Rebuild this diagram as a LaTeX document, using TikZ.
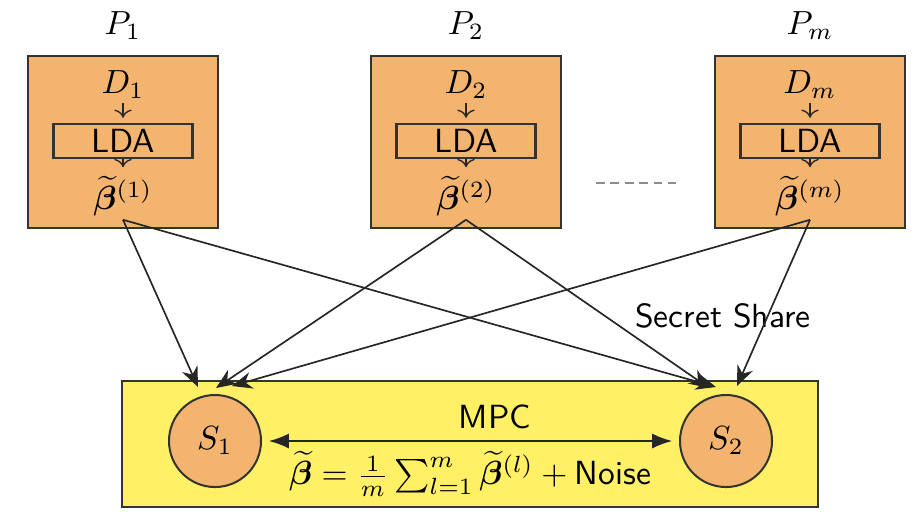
\documentclass[tikz,border=0pt]{standalone}
\usepackage{amsmath,amssymb}
\usepackage{bm}
\usepackage{tikz}
\usetikzlibrary{arrows.meta}
\definecolor{boxorange}{RGB}{243,180,112}
\definecolor{mpcyellow}{RGB}{255,240,102}

\begin{document}
\begin{tikzpicture}[x=0.0105cm,y=-0.0105cm,
  pbox/.style={draw=black!80,fill=boxorange,line width=0.7pt,minimum width=2cm,minimum height=1.806cm,inner sep=0pt},
  ldabox/.style={draw=black!80,line width=0.7pt,minimum width=1.46cm,minimum height=0.357cm,inner sep=0pt,font=\sffamily},
  server/.style={circle,draw=black!80,fill=boxorange,line width=0.6pt,minimum size=0.966cm,inner sep=0pt},
  step arrow/.style={->,black!85,shorten >=1.5pt},
  share/.style={-{Stealth[length=6pt,width=5pt]},black!85,line width=0.5pt}]
\useasboundingbox (0,0) rectangle (918,517);
% parties
\node[pbox] (box1) at (123,142) {};
\node[pbox] (box2) at (466,142) {};
\node[pbox] (boxm) at (810,142) {};
\node (p1) at (123,26) {$P_1$};
\node (p2) at (466,26) {$P_2$};
\node (pm) at (810,26) {$P_m$};
\node[inner sep=1pt] (d1) at (123,85) {$D_1$};
\node[inner sep=1pt] (d2) at (466,85) {$D_2$};
\node[inner sep=1pt] (dm) at (810,85) {$D_m$};
\node[ldabox] (lda1) at (123,141) {LDA};
\node[ldabox] (lda2) at (466,141) {LDA};
\node[ldabox] (ldam) at (810,141) {LDA};
\node[inner sep=1pt] (b1) at (123,196) {$\widetilde{\bm{\beta}}^{(1)}$};
\node[inner sep=1pt] (b2) at (466,196) {$\widetilde{\bm{\beta}}^{(2)}$};
\node[inner sep=1pt] (bm) at (810,196) {$\widetilde{\bm{\beta}}^{(m)}$};
\draw[step arrow] (d1.south) -- (lda1.north);
\draw[step arrow] (d2.south) -- (lda2.north);
\draw[step arrow] (dm.south) -- (ldam.north);
\draw[step arrow] (lda1.south) -- (b1.north);
\draw[step arrow] (lda2.south) -- (b2.north);
\draw[step arrow] (ldam.south) -- (bm.north);
\draw[gray!90,line width=0.6pt,dash pattern=on 2.6pt off 1.7pt] (596,183) -- (676,183);
% MPC servers
\node[draw=black!80,fill=mpcyellow,line width=0.7pt,minimum width=7.31cm,minimum height=1.32cm] (mpc) at (470,444) {};
\node[server] (s1) at (215,441) {$S_1$};
\node[server] (s2) at (726,441) {$S_2$};
\draw[{Latex[length=6pt]}-{Latex[length=6pt]},black!85,line width=0.6pt,shorten <=2pt,shorten >=2pt] (s1) -- (s2);
\node[font=\sffamily] (mpclabel) at (495,417) {MPC};
\node (avg) at (470,474) {$\widetilde{\bm{\beta}}=\frac{1}{m}\sum_{l=1}^{m}\widetilde{\bm{\beta}}^{(l)}+\textsf{Noise}$};
\node[font=\sffamily] (secret) at (723,316) {Secret Share};
% shares
\coordinate (s1in1) at (198,387);
\coordinate (s1in2) at (216,388);
\coordinate (s1in3) at (232,386);
\coordinate (s2in1) at (716,387);
\coordinate (s2in2) at (709,388);
\coordinate (s2in3) at (737,386);
\draw[share] (b1.south) -- (s1in1);
\draw[share] (b1.south) -- (s2in1);
\draw[share] (b2.south) -- (s1in2);
\draw[share] (b2.south) -- (s2in2);
\draw[share] (bm.south) -- (s1in3);
\draw[share] (bm.south) -- (s2in3);
\end{tikzpicture}
\end{document}
